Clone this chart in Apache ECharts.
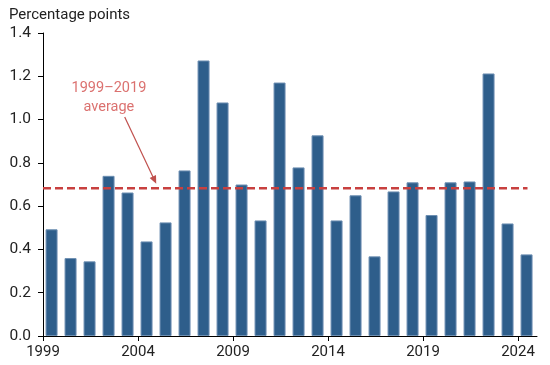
<!DOCTYPE html>
<html>
<head>
<meta charset="utf-8">
<script src="https://cdn.jsdelivr.net/npm/echarts@6/dist/echarts.min.js"></script>
<style>html,body{margin:0;padding:0;background:#fff;}#c{width:550px;height:365px;}</style>
</head>
<body>
<div id="c"></div>
<script>
var firstYear = 1999;
var years = [1999,2000,2001,2002,2003,2004,2005,2006,2007,2008,2009,2010,2011,2012,2013,2014,2015,2016,2017,2018,2019,2020,2021,2022,2023,2024];
var values = [0.493,0.36,0.345,0.74,0.663,0.437,0.525,0.765,1.273,1.079,0.70,0.534,1.171,0.779,0.927,0.534,0.65,0.368,0.668,0.71,0.559,0.71,0.714,1.213,0.52,0.377];
var average = 0.683;
var avgSpan = [0, 25.5];
var yTicks = [0, 0.2, 0.4, 0.6, 0.8, 1.0, 1.2, 1.4];
var annotationText = "1999\u20132019\naverage";
var annotationPos = [3.47, 1.1];
var arrowStart = [4.3, 1.012];
var arrowEnd = [5.87, 0.72];

var font = "Roboto, 'Liberation Sans', sans-serif";
var barData = years.map(function(y, i){ return [y - firstYear + 0.45, values[i]]; });

var chart = echarts.init(document.getElementById('c'));
chart.setOption({
  animation: false,
  backgroundColor: '#fff',
  title: {
    text: 'Percentage points', left: 4, top: 3,
    textStyle: {fontFamily: font, fontSize: 15, fontWeight: 'normal', color: '#222'}
  },
  grid: {left: 43, right: 13, top: 33, bottom: 29, containLabel: false},
  xAxis: {
    type: 'value', min: 0, max: 26, interval: 5,
    axisLine: {show: true, lineStyle: {color: '#000', width: 1}},
    axisTick: {show: true, length: 5, lineStyle: {color: '#000'}},
    splitLine: {show: false},
    axisLabel: {
      fontFamily: font, fontSize: 15, color: '#222', margin: 9,
      formatter: function(v){ return String(firstYear + v); }
    }
  },
  yAxis: {
    type: 'value', min: yTicks[0], max: yTicks[yTicks.length-1], interval: 0.2,
    axisLine: {show: true, lineStyle: {color: '#000', width: 1}},
    axisTick: {show: true, length: 5, lineStyle: {color: '#000'}},
    splitLine: {show: false},
    axisLabel: {
      fontFamily: font, fontSize: 15.5, color: '#222', margin: 12,
      formatter: function(v){ return v.toFixed(1); }
    }
  },
  series: [
    {
      type: 'bar', data: barData, barWidth: 12,
      itemStyle: {color: '#2e5e8b', borderColor: '#6d8fb2', borderWidth: 1}
    },
    {
      type: 'line', data: [[avgSpan[0], average], [avgSpan[1], average]],
      symbol: 'none', z: 5,
      lineStyle: {color: '#c8403f', width: 2.5, type: [8, 4]},
      markLine: {
        silent: true, symbol: ['none', 'triangle'], symbolSize: [7, 8],
        label: {show: false},
        lineStyle: {color: '#c0504d', width: 1.2, type: 'solid'},
        data: [[{coord: arrowStart}, {coord: arrowEnd}]]
      }
    },
    {
      type: 'scatter', data: [annotationPos], symbolSize: 0, z: 6,
      label: {
        show: true, position: 'inside', formatter: annotationText,
        fontFamily: font, fontSize: 14.5, color: '#d24e4b', lineHeight: 19, align: 'center'
      }
    }
  ]
});
</script>
</body>
</html>
